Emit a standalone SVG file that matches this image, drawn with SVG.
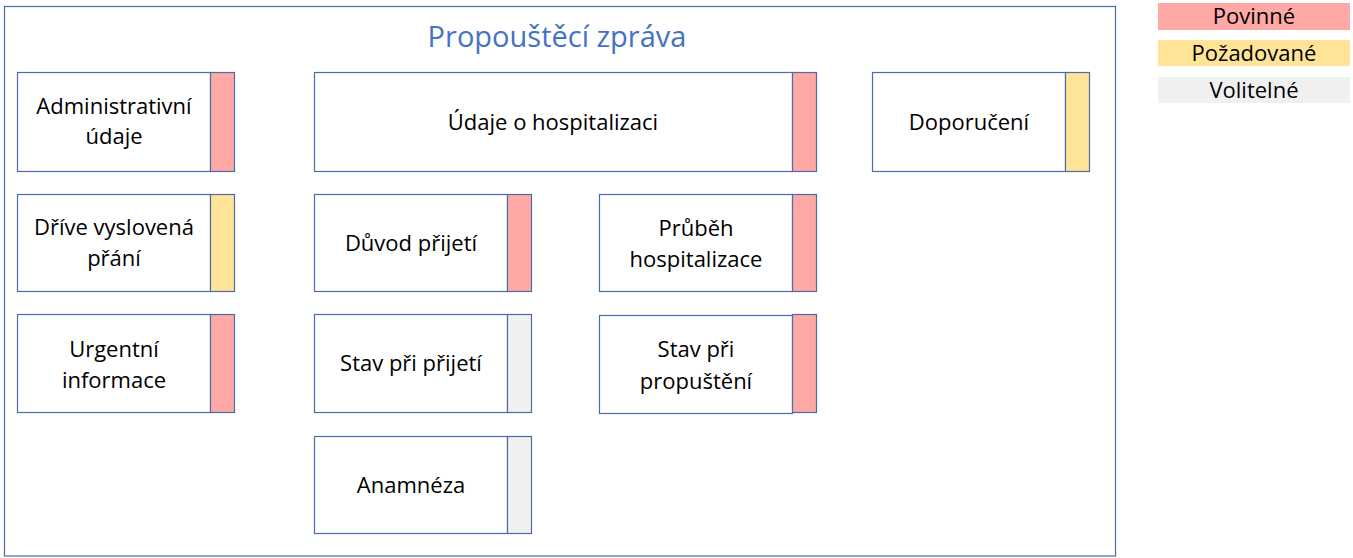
<svg xmlns="http://www.w3.org/2000/svg" width="1353" height="558" viewBox="0 0 1353 558">
<style>
.box{fill:#fff;stroke:#4A6DA7;stroke-width:1.2}
.p{fill:#FFA9A6;stroke:#4A6DA7;stroke-width:1.2}
.y{fill:#FFE498;stroke:#4A6DA7;stroke-width:1.2}
.g{fill:#F0F0F0;stroke:#4A6DA7;stroke-width:1.2}
text{font-family:"Open Sans","Liberation Sans",sans-serif;font-size:22px;fill:#000;text-anchor:middle}
.t{font-size:29px;fill:#4472C4}
</style>
<rect x="4.5" y="6.5" width="1111" height="549.5" fill="#fff" stroke="#4A6DA7" stroke-width="1.2"/>
<text class="t" x="557" y="47">Propouštěcí zpráva</text>
<g id="legend">
<rect x="1158" y="3" width="192" height="27" fill="#FFA9A6"/>
<text x="1254" y="24">Povinné</text>
<rect x="1158" y="40" width="192" height="26" fill="#FFE498"/>
<text x="1254" y="61">Požadované</text>
<rect x="1158" y="77" width="192" height="26" fill="#F0F0F0"/>
<text x="1254" y="98">Volitelné</text>
</g>
<g id="n-admin"><rect class="box" x="17.5" y="72.5" width="193" height="99"/><rect class="p" x="210.5" y="72.5" width="24" height="99"/><text x="114" y="114">Administrativní</text><text x="114" y="144">údaje</text></g>
<g id="n-hosp"><rect class="box" x="314.5" y="72.5" width="478" height="99"/><rect class="p" x="792.5" y="72.5" width="24" height="99"/><text x="553" y="130">Údaje o hospitalizaci</text></g>
<g id="n-dop"><rect class="box" x="872.5" y="72.5" width="193" height="99"/><rect class="y" x="1065.5" y="72.5" width="24" height="99"/><text x="969" y="130">Doporučení</text></g>
<g id="n-prani"><rect class="box" x="17.5" y="194.5" width="193" height="97"/><rect class="y" x="210.5" y="194.5" width="24" height="97"/><text x="114" y="235">Dříve vyslovená</text><text x="114" y="266">přání</text></g>
<g id="n-urg"><rect class="box" x="17.5" y="314.5" width="193" height="98"/><rect class="p" x="210.5" y="314.5" width="24" height="98"/><text x="114" y="357">Urgentní</text><text x="114" y="388">informace</text></g>
<g id="n-duvod"><rect class="box" x="314.5" y="194.5" width="193" height="97"/><rect class="p" x="507.5" y="194.5" width="24" height="97"/><text x="411" y="251">Důvod přijetí</text></g>
<g id="n-stavp"><rect class="box" x="314.5" y="314.5" width="193" height="98"/><rect class="g" x="507.5" y="314.5" width="24" height="98"/><text x="411" y="371">Stav při přijetí</text></g>
<g id="n-anam"><rect class="box" x="314.5" y="436.5" width="193" height="97"/><rect class="g" x="507.5" y="436.5" width="24" height="97"/><text x="411" y="493">Anamnéza</text></g>
<g id="n-prubeh"><rect class="box" x="599.5" y="194.5" width="193" height="97"/><rect class="p" x="792.5" y="194.5" width="24" height="97"/><text x="696" y="236">Průběh</text><text x="696" y="267">hospitalizace</text></g>
<g id="n-stavprop"><rect class="box" x="599.5" y="315.5" width="193" height="98"/><rect class="p" x="792.5" y="314.5" width="24" height="98"/><text x="696" y="357">Stav při</text><text x="696" y="389">propuštění</text></g>
<g id="connectors"></g>
</svg>
